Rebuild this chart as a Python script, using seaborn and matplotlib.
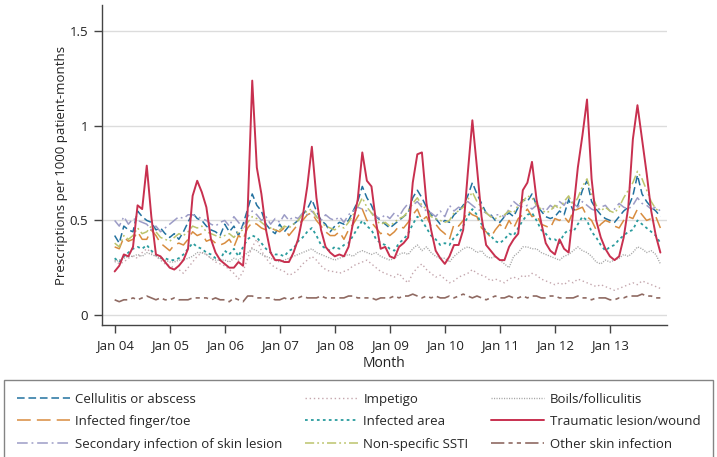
import numpy as np
import pandas as pd
import seaborn as sns
import matplotlib.pyplot as plt

sns.set_style("white")
plt.rcParams['font.family'] = ['Open Sans', 'DejaVu Sans']

# monthly rates, Jan 2004 - Dec 2013 (one row of 12 per year)
cellulitis = [
    0.42, 0.38, 0.47, 0.45, 0.44, 0.55, 0.52, 0.50, 0.49, 0.45, 0.46, 0.43,
    0.41, 0.43, 0.40, 0.44, 0.49, 0.54, 0.51, 0.50, 0.47, 0.45, 0.44, 0.42,
    0.48, 0.44, 0.47, 0.42, 0.48, 0.56, 0.64, 0.58, 0.55, 0.48, 0.45, 0.43,
    0.48, 0.44, 0.47, 0.48, 0.50, 0.53, 0.56, 0.61, 0.55, 0.50, 0.48, 0.44,
    0.47, 0.49, 0.48, 0.50, 0.55, 0.60, 0.68, 0.62, 0.58, 0.52, 0.50, 0.48,
    0.46, 0.48, 0.50, 0.52, 0.54, 0.62, 0.66, 0.62, 0.57, 0.53, 0.51, 0.48,
    0.50, 0.49, 0.53, 0.55, 0.58, 0.63, 0.70, 0.64, 0.59, 0.54, 0.53, 0.50,
    0.49, 0.52, 0.54, 0.52, 0.57, 0.61, 0.60, 0.64, 0.58, 0.55, 0.52, 0.51,
    0.52, 0.55, 0.53, 0.61, 0.55, 0.58, 0.66, 0.71, 0.60, 0.56, 0.53, 0.51,
    0.50, 0.49, 0.52, 0.55, 0.57, 0.63, 0.74, 0.64, 0.60, 0.57, 0.55, 0.52]
finger_toe = [
    0.36, 0.35, 0.41, 0.39, 0.40, 0.44, 0.40, 0.40, 0.45, 0.42, 0.38, 0.36,
    0.34, 0.37, 0.38, 0.37, 0.40, 0.44, 0.42, 0.43, 0.39, 0.40, 0.38, 0.37,
    0.38, 0.40, 0.36, 0.42, 0.40, 0.46, 0.49, 0.48, 0.46, 0.45, 0.46, 0.45,
    0.44, 0.46, 0.42, 0.45, 0.48, 0.50, 0.53, 0.54, 0.50, 0.47, 0.44, 0.42,
    0.42, 0.44, 0.40, 0.45, 0.48, 0.52, 0.56, 0.50, 0.49, 0.46, 0.43, 0.44,
    0.42, 0.44, 0.47, 0.46, 0.49, 0.53, 0.56, 0.50, 0.52, 0.47, 0.48, 0.45,
    0.43, 0.40, 0.48, 0.47, 0.50, 0.55, 0.53, 0.52, 0.46, 0.44, 0.41, 0.45,
    0.48, 0.45, 0.50, 0.46, 0.51, 0.53, 0.56, 0.52, 0.53, 0.48, 0.47, 0.46,
    0.51, 0.50, 0.52, 0.49, 0.55, 0.56, 0.57, 0.52, 0.50, 0.45, 0.48, 0.50,
    0.49, 0.47, 0.46, 0.50, 0.52, 0.51, 0.56, 0.53, 0.50, 0.51, 0.52, 0.46]
secondary = [
    0.50, 0.47, 0.52, 0.48, 0.51, 0.50, 0.49, 0.48, 0.45, 0.47, 0.44, 0.46,
    0.48, 0.50, 0.52, 0.51, 0.53, 0.53, 0.52, 0.51, 0.50, 0.48, 0.47, 0.49,
    0.50, 0.47, 0.52, 0.49, 0.46, 0.52, 0.55, 0.53, 0.50, 0.52, 0.48, 0.51,
    0.49, 0.53, 0.50, 0.52, 0.51, 0.54, 0.53, 0.55, 0.52, 0.50, 0.53, 0.51,
    0.50, 0.52, 0.49, 0.53, 0.55, 0.57, 0.56, 0.55, 0.54, 0.52, 0.51, 0.53,
    0.51, 0.54, 0.52, 0.56, 0.59, 0.58, 0.60, 0.57, 0.55, 0.54, 0.52, 0.55,
    0.52, 0.58, 0.55, 0.57, 0.56, 0.60, 0.58, 0.56, 0.55, 0.54, 0.52, 0.53,
    0.53, 0.52, 0.56, 0.60, 0.58, 0.57, 0.58, 0.56, 0.58, 0.57, 0.55, 0.58,
    0.56, 0.60, 0.58, 0.62, 0.59, 0.57, 0.60, 0.58, 0.56, 0.55, 0.57, 0.58,
    0.55, 0.56, 0.59, 0.57, 0.56, 0.58, 0.62, 0.59, 0.58, 0.56, 0.57, 0.55]
impetigo = [
    0.29, 0.27, 0.28, 0.30, 0.31, 0.30, 0.33, 0.35, 0.33, 0.31, 0.29, 0.27,
    0.26, 0.25, 0.24, 0.22, 0.25, 0.28, 0.31, 0.33, 0.32, 0.30, 0.28, 0.27,
    0.26, 0.24, 0.22, 0.19, 0.23, 0.30, 0.36, 0.40, 0.34, 0.30, 0.27, 0.25,
    0.24, 0.23, 0.21, 0.22, 0.24, 0.27, 0.29, 0.31, 0.29, 0.26, 0.24, 0.23,
    0.23, 0.22, 0.23, 0.24, 0.26, 0.27, 0.28, 0.29, 0.27, 0.25, 0.23, 0.22,
    0.21, 0.20, 0.22, 0.19, 0.17, 0.22, 0.25, 0.27, 0.24, 0.22, 0.20, 0.21,
    0.19, 0.17, 0.18, 0.20, 0.21, 0.22, 0.24, 0.22, 0.21, 0.20, 0.18, 0.19,
    0.18, 0.17, 0.19, 0.20, 0.19, 0.21, 0.20, 0.22, 0.21, 0.19, 0.18, 0.17,
    0.16, 0.17, 0.16, 0.18, 0.17, 0.19, 0.18, 0.17, 0.16, 0.15, 0.16, 0.15,
    0.14, 0.13, 0.14, 0.15, 0.16, 0.17, 0.16, 0.18, 0.17, 0.16, 0.15, 0.14]
infected_area = [
    0.30, 0.28, 0.31, 0.33, 0.35, 0.36, 0.35, 0.37, 0.34, 0.32, 0.30, 0.30,
    0.29, 0.29, 0.30, 0.32, 0.35, 0.38, 0.36, 0.35, 0.33, 0.32, 0.30, 0.29,
    0.34, 0.32, 0.35, 0.31, 0.36, 0.40, 0.42, 0.41, 0.38, 0.35, 0.33, 0.32,
    0.32, 0.31, 0.34, 0.35, 0.39, 0.41, 0.44, 0.46, 0.42, 0.37, 0.35, 0.34,
    0.36, 0.35, 0.37, 0.38, 0.42, 0.46, 0.50, 0.47, 0.45, 0.40, 0.38, 0.37,
    0.35, 0.34, 0.38, 0.40, 0.43, 0.48, 0.52, 0.50, 0.46, 0.42, 0.40, 0.37,
    0.38, 0.37, 0.41, 0.43, 0.47, 0.52, 0.56, 0.53, 0.48, 0.44, 0.42, 0.39,
    0.38, 0.40, 0.43, 0.42, 0.46, 0.50, 0.53, 0.54, 0.50, 0.45, 0.43, 0.40,
    0.40, 0.38, 0.43, 0.45, 0.44, 0.48, 0.52, 0.50, 0.44, 0.41, 0.37, 0.34,
    0.36, 0.37, 0.40, 0.42, 0.44, 0.45, 0.50, 0.48, 0.46, 0.44, 0.42, 0.38]
nonspecific = [
    0.38, 0.36, 0.42, 0.40, 0.42, 0.46, 0.43, 0.44, 0.47, 0.44, 0.41, 0.40,
    0.39, 0.41, 0.43, 0.42, 0.44, 0.47, 0.46, 0.47, 0.44, 0.43, 0.42, 0.41,
    0.42, 0.43, 0.41, 0.44, 0.45, 0.49, 0.52, 0.51, 0.49, 0.47, 0.46, 0.45,
    0.45, 0.47, 0.46, 0.48, 0.50, 0.53, 0.55, 0.56, 0.52, 0.49, 0.47, 0.46,
    0.45, 0.47, 0.46, 0.49, 0.53, 0.57, 0.62, 0.57, 0.54, 0.50, 0.48, 0.49,
    0.47, 0.49, 0.51, 0.52, 0.55, 0.59, 0.62, 0.58, 0.56, 0.52, 0.51, 0.50,
    0.49, 0.50, 0.54, 0.55, 0.57, 0.61, 0.65, 0.60, 0.57, 0.54, 0.52, 0.51,
    0.52, 0.53, 0.55, 0.54, 0.58, 0.60, 0.63, 0.62, 0.58, 0.56, 0.54, 0.55,
    0.58, 0.56, 0.60, 0.63, 0.58, 0.62, 0.68, 0.72, 0.64, 0.58, 0.55, 0.57,
    0.55, 0.54, 0.57, 0.62, 0.66, 0.70, 0.76, 0.72, 0.66, 0.60, 0.56, 0.55]
boils = [
    0.28, 0.29, 0.30, 0.31, 0.31, 0.32, 0.31, 0.33, 0.32, 0.31, 0.30, 0.29,
    0.28, 0.28, 0.29, 0.29, 0.30, 0.31, 0.33, 0.33, 0.32, 0.30, 0.29, 0.29,
    0.29, 0.28, 0.30, 0.29, 0.31, 0.33, 0.35, 0.34, 0.32, 0.31, 0.30, 0.29,
    0.28, 0.29, 0.30, 0.31, 0.32, 0.33, 0.34, 0.35, 0.33, 0.32, 0.31, 0.30,
    0.29, 0.30, 0.31, 0.32, 0.31, 0.33, 0.34, 0.33, 0.32, 0.33, 0.31, 0.30,
    0.29, 0.30, 0.32, 0.33, 0.32, 0.35, 0.37, 0.34, 0.36, 0.33, 0.31, 0.30,
    0.30, 0.28, 0.31, 0.33, 0.35, 0.36, 0.35, 0.33, 0.34, 0.31, 0.30, 0.31,
    0.29, 0.27, 0.25, 0.31, 0.33, 0.36, 0.36, 0.35, 0.35, 0.33, 0.32, 0.31,
    0.30, 0.29, 0.31, 0.32, 0.34, 0.36, 0.34, 0.33, 0.31, 0.28, 0.27, 0.29,
    0.28, 0.29, 0.30, 0.32, 0.31, 0.33, 0.36, 0.35, 0.33, 0.34, 0.32, 0.27]
traumatic = [
    0.23, 0.26, 0.32, 0.31, 0.36, 0.58, 0.56, 0.79, 0.52, 0.32, 0.31, 0.28,
    0.25, 0.24, 0.26, 0.29, 0.35, 0.63, 0.71, 0.65, 0.57, 0.40, 0.33, 0.29,
    0.27, 0.25, 0.25, 0.28, 0.26, 0.55, 1.24, 0.78, 0.64, 0.45, 0.33, 0.29,
    0.29, 0.28, 0.28, 0.33, 0.40, 0.52, 0.68, 0.89, 0.62, 0.45, 0.36, 0.33,
    0.31, 0.32, 0.31, 0.36, 0.49, 0.61, 0.86, 0.71, 0.68, 0.49, 0.35, 0.36,
    0.31, 0.30, 0.36, 0.38, 0.41, 0.70, 0.85, 0.86, 0.59, 0.45, 0.34, 0.30,
    0.27, 0.31, 0.37, 0.37, 0.45, 0.75, 1.03, 0.78, 0.52, 0.37, 0.34, 0.31,
    0.29, 0.29, 0.36, 0.40, 0.43, 0.66, 0.70, 0.81, 0.61, 0.49, 0.38, 0.34,
    0.32, 0.40, 0.35, 0.33, 0.55, 0.78, 0.95, 1.14, 0.72, 0.50, 0.41, 0.35,
    0.31, 0.29, 0.31, 0.41, 0.57, 0.93, 1.11, 0.93, 0.75, 0.55, 0.42, 0.33]
other = [
    0.08, 0.07, 0.08, 0.08, 0.09, 0.08, 0.09, 0.10, 0.09, 0.08, 0.09, 0.08,
    0.08, 0.09, 0.08, 0.08, 0.08, 0.09, 0.09, 0.09, 0.09, 0.08, 0.09, 0.08,
    0.08, 0.07, 0.09, 0.08, 0.07, 0.10, 0.10, 0.09, 0.09, 0.09, 0.09, 0.08,
    0.08, 0.09, 0.08, 0.09, 0.09, 0.10, 0.09, 0.09, 0.09, 0.10, 0.09, 0.09,
    0.09, 0.09, 0.09, 0.10, 0.10, 0.09, 0.09, 0.09, 0.09, 0.08, 0.09, 0.09,
    0.09, 0.10, 0.09, 0.10, 0.10, 0.11, 0.10, 0.09, 0.10, 0.09, 0.10, 0.09,
    0.09, 0.10, 0.09, 0.10, 0.11, 0.10, 0.09, 0.10, 0.09, 0.08, 0.09, 0.10,
    0.09, 0.09, 0.10, 0.09, 0.09, 0.10, 0.09, 0.10, 0.10, 0.09, 0.09, 0.10,
    0.10, 0.09, 0.09, 0.09, 0.09, 0.10, 0.09, 0.09, 0.08, 0.09, 0.09, 0.09,
    0.08, 0.08, 0.09, 0.09, 0.10, 0.10, 0.10, 0.11, 0.10, 0.10, 0.09, 0.09]

year_labels = ["Jan 04", "Jan 05", "Jan 06", "Jan 07", "Jan 08",
               "Jan 09", "Jan 10", "Jan 11", "Jan 12", "Jan 13"]
y_ticks = [0, 0.5, 1, 1.5]
y_tick_labels = ["0", "0.5", "1", "1.5"]

month = np.arange(len(traumatic))

# legend order: column by column (matplotlib fills columns first)
series = [
    ("Cellulitis or abscess", cellulitis, "#22719f", (0, (5, 2.5)), 1.1),
    ("Infected finger/toe", finger_toe, "#d88c3f", (0, (9, 4)), 1.1),
    ("Secondary infection of skin lesion", secondary, "#9c9cc6", (0, (7, 2.5, 1.2, 2.5)), 1.1),
    ("Impetigo", impetigo, "#c4a6ad", (0, (1, 2)), 1.0),
    ("Infected area", infected_area, "#2a9c9e", (0, (1.5, 1.8)), 1.3),
    ("Non-specific SSTI", nonspecific, "#bcc46c", (0, (6, 2, 1.2, 2, 1.2, 2)), 1.1),
    ("Boils/folliculitis", boils, "#a6a6a6", (0, (0.8, 1.0)), 1.0),
    ("Traumatic lesion/wound", traumatic, "#c8304f", "-", 1.4),
    ("Other skin infection", other, "#8f6a62", (0, (8, 2.5, 2.5, 2.5, 2.5, 2.5)), 1.2),
]

fig = plt.figure(figsize=(7.17, 4.57), dpi=100)
ax = fig.add_axes([0.142, 0.289, 0.788, 0.70])

for name, vals, col, ls, lw in series:
    sns.lineplot(x=month, y=vals, ax=ax, color=col, linestyle=ls, linewidth=lw, label=name)

ax.set_xlim(-2.8, 120.4)
ax.set_ylim(-0.053, 1.64)
ax.set_xticks(np.arange(0, 120, 12))
ax.set_xticklabels(year_labels)
ax.set_yticks(y_ticks)
ax.set_yticklabels(y_tick_labels)
ax.yaxis.grid(True, color="#dcdcdc", linewidth=1)
ax.set_axisbelow(True)
for s in ["top", "right"]:
    ax.spines[s].set_visible(False)
for s in ["left", "bottom"]:
    ax.spines[s].set_color("#444444")
    ax.spines[s].set_linewidth(1)
ax.tick_params(axis="both", direction="out", length=6, width=1, color="#444444",
               labelsize=9.5, labelcolor="#222222", pad=4)
ax.tick_params(axis="both", which="both", left=True, bottom=True)
ax.set_xlabel("Month", fontsize=10, color="#222222", labelpad=3)
ax.set_ylabel("Prescriptions per 1000 patient-months", fontsize=9.5, color="#222222", labelpad=1)

handles, labels = ax.get_legend_handles_labels()
ax.get_legend().remove()
leg = fig.legend(handles, labels, loc="upper left", ncol=3, mode="expand",
                 bbox_to_anchor=(0.006, 0.0, 0.988, 0.1685), borderaxespad=0,
                 frameon=True, fancybox=False, fontsize=9.5, handlelength=4.0,
                 handletextpad=0.4, labelspacing=0.72, borderpad=0.95)
leg.get_frame().set_edgecolor("#666666")
leg.get_frame().set_linewidth(1)

fig.savefig("out.png", dpi=100)
